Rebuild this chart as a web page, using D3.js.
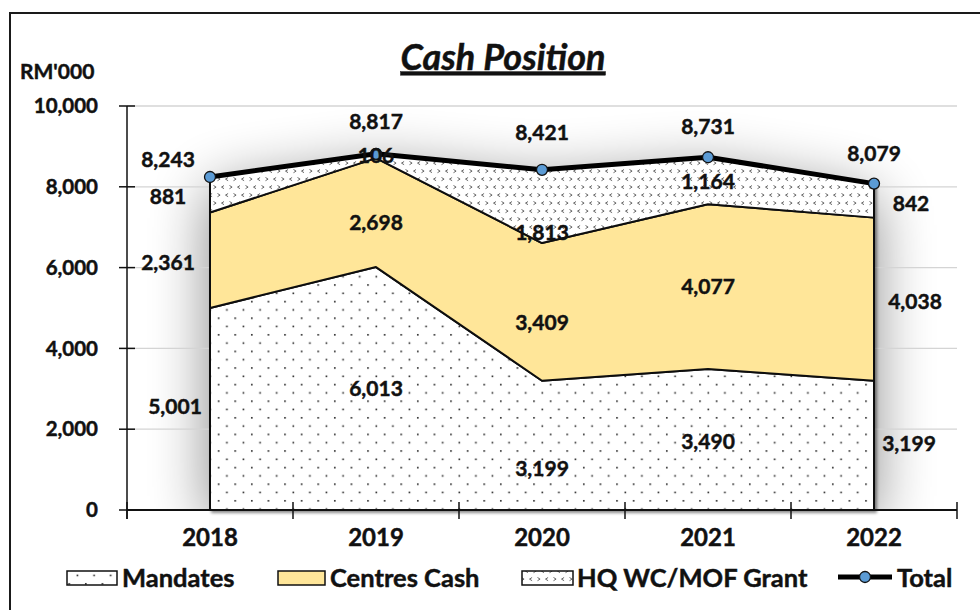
<!DOCTYPE html>
<html><head><meta charset="utf-8">
<script src="https://cdn.jsdelivr.net/npm/d3@7"></script>
<style>body{margin:0;background:#fff}svg text{font-family:Lato,"Open Sans",sans-serif;font-weight:bold;fill:#111;stroke:#111;stroke-width:0.45px;paint-order:stroke}</style>
</head><body><svg id="c" width="980" height="610"></svg>
<script>
const years = ["2018","2019","2020","2021","2022"];
const mandates = [5001, 6013, 3199, 3490, 3199];
const centresCash = [2361, 2698, 3409, 4077, 4038];
const hqGrant = [881, 106, 1813, 1164, 842];
const total = [8243, 8817, 8421, 8731, 8079];
const yTicks = [0, 2000, 4000, 6000, 8000, 10000];
const seriesNames = ["Mandates", "Centres Cash", "HQ WC/MOF Grant", "Total"];

// label offsets (layout only)
const offMand = [[-35,-2],[0,0],[0,23],[0,2],[35,-2]];
const offCent = [[-42,2],[0,10],[0,11],[0,0],[41,2]];
const offHq   = [[-42,2],[0,0],[0,26],[0,1],[37,3]];
const offTot  = [[-42,-17],[0,-32],[0,-37],[0,-31],[0,-30]];

const svg = d3.select("#c");
const L=127,R=957,T=106,B=510;
const x = d3.scalePoint().domain(years).range([L,R]).padding(0.5);
const y = d3.scaleLinear().domain([0,10000]).range([B,T]);

const defs = svg.append("defs");
const pd = defs.append("pattern").attr("id","dots").attr("patternUnits","userSpaceOnUse").attr("width",16.6).attr("height",16.6);
pd.append("rect").attr("width",16.6).attr("height",16.6).attr("fill","#fff");
pd.append("rect").attr("x",2).attr("y",2).attr("width",1.6).attr("height",1.6).attr("fill","#222");
pd.append("rect").attr("x",10.3).attr("y",10.3).attr("width",1.6).attr("height",1.6).attr("fill","#222");
const pv = defs.append("pattern").attr("id","divot").attr("patternUnits","userSpaceOnUse").attr("width",16).attr("height",16);
pv.append("rect").attr("width",16).attr("height",16).attr("fill","#fff");
const gl = (x0,y0,dir)=>dir>0?`M${x0},${y0} L${x0+2.6},${y0+1.6} L${x0},${y0+3.2}`:`M${x0+2.6},${y0} L${x0},${y0+1.6} L${x0+2.6},${y0+3.2}`;
pv.append("path").attr("d",gl(1.5,1.5,-1)+" "+gl(9.5,1.5,1)+" "+gl(5.5,9.5,1)+" "+gl(13.5,9.5,-1)).attr("fill","none").attr("stroke","#666").attr("stroke-width",1);
const f = defs.append("filter").attr("id","soft").attr("x","-50%").attr("y","-50%").attr("width","200%").attr("height","200%");
f.append("feGaussianBlur").attr("stdDeviation",30);
const f2 = defs.append("filter").attr("id","edge").attr("x","-10%").attr("y","-10%").attr("width","120%").attr("height","120%");
f2.append("feDropShadow").attr("dx",2).attr("dy",2).attr("stdDeviation",1.5).attr("flood-color","#000").attr("flood-opacity",0.45);
defs.append("clipPath").attr("id","plotclip").append("rect").attr("x",L).attr("y",T-2).attr("width",R-L).attr("height",B-T+2);

svg.append("rect").attr("x",10).attr("y",13).attr("width",990).attr("height",620).attr("fill","#fff").attr("stroke","#1a1a1a").attr("stroke-width",2);

const rows = years.map((yr,i)=>({year:yr, m:mandates[i], c:centresCash[i], h:hqGrant[i], t:total[i]}));
const stack = d3.stack().keys(["m","c","h"])(rows);

const plot = svg.append("g").attr("clip-path","url(#plotclip)");
const totArea = d3.area().x(d=>x(d.year)).y0(B).y1(d=>y(d.m+d.c+d.h));
plot.append("path").datum(rows).attr("d",totArea).attr("fill","#000").attr("opacity",0.48).attr("filter","url(#soft)").attr("transform","translate(0,14)");

svg.append("g").selectAll("line").data(yTicks.filter(v=>v>0)).join("line")
  .attr("x1",L).attr("x2",R).attr("y1",d=>y(d)).attr("y2",d=>y(d)).attr("stroke","#d4d4d4").attr("stroke-width",1.3);

const area = d3.area().x(d=>x(d.data.year)).y0(d=>y(d[0])).y1(d=>y(d[1]));
const fills = ["url(#dots)","#FFE699","url(#divot)"];
const ag = svg.append("g").attr("filter","url(#edge)");
stack.forEach((s,i)=>{
  ag.append("path").datum(s).attr("d",area).attr("fill",fills[i]).attr("stroke","#111").attr("stroke-width",2).attr("stroke-linejoin","round");
});

const yAxis = svg.append("g").attr("transform",`translate(${L},0)`);
yAxis.append("line").attr("x1",0).attr("x2",0).attr("y1",T).attr("y2",B+9).attr("stroke","#111").attr("stroke-width",1.5);
yAxis.selectAll("line.t").data(yTicks).join("line").attr("class","t").attr("x1",-8).attr("x2",8).attr("y1",d=>y(d)).attr("y2",d=>y(d)).attr("stroke","#111").attr("stroke-width",1.5);
yAxis.selectAll("text").data(yTicks).join("text").attr("x",-29).attr("y",d=>y(d)).attr("dy","0.35em").attr("text-anchor","end").attr("font-size",20.5).text(d3.format(","));

const xAxis = svg.append("g");
xAxis.append("line").attr("x1",L).attr("x2",R).attr("y1",B).attr("y2",B).attr("stroke","#111").attr("stroke-width",2);
const bounds = years.map(yr=>x(yr)-x.step()/2).concat([x(years[years.length-1])+x.step()/2]);
xAxis.selectAll("line.t").data(bounds).join("line").attr("class","t").attr("x1",d=>d).attr("x2",d=>d).attr("y1",B-8).attr("y2",B+9).attr("stroke","#111").attr("stroke-width",1.5);
xAxis.selectAll("text").data(years).join("text").attr("x",d=>x(d)).attr("y",538).attr("dy","0.35em").attr("text-anchor","middle").attr("font-size",24).text(d=>d);

const line = d3.line().x((d,i)=>x(years[i])).y(d=>y(d));
svg.append("path").datum(total).attr("d",line).attr("fill","none").attr("stroke","#000").attr("stroke-width",5).attr("stroke-linejoin","round");
svg.selectAll("circle.m").data(total).join("circle").attr("class","m").attr("cx",(d,i)=>x(years[i])).attr("cy",d=>y(d)).attr("r",5.5).attr("fill","#5B9BD5").attr("stroke","#111").attr("stroke-width",1.3);

const fmt = d3.format(",");
function labels(vals, base, offs){
  svg.append("g").selectAll("text").data(vals).join("text")
    .attr("x",(d,i)=>x(years[i])+offs[i][0])
    .attr("y",(d,i)=>y(base[i]+d/2)+offs[i][1])
    .attr("dy","0.35em").attr("text-anchor","middle").attr("font-size",21).text(fmt);
}
labels(mandates, mandates.map(()=>0), offMand);
labels(centresCash, mandates, offCent);
labels(hqGrant, mandates.map((m,i)=>m+centresCash[i]), offHq);
svg.append("g").selectAll("text").data(total).join("text")
  .attr("x",(d,i)=>x(years[i])+offTot[i][0]).attr("y",(d,i)=>y(d)+offTot[i][1])
  .attr("dy","0.35em").attr("text-anchor","middle").attr("font-size",21).text(fmt);

svg.append("text").attr("x",503).attr("y",57).attr("dy","0.35em").attr("text-anchor","middle").attr("font-size",36).attr("font-style","italic").attr("text-decoration","underline").text("Cash Position");
svg.append("text").attr("x",20).attr("y",72).attr("dy","0.35em").attr("font-size",21).text("RM'000");

const lg = svg.append("g");
const legItems = [
  {x:67,w:50,tx:122,fill:"url(#dots)"},
  {x:278,w:47,tx:330,fill:"#FFE699"},
  {x:522,w:51,tx:577,fill:"url(#divot)"}
];
legItems.forEach((it,i)=>{
  lg.append("rect").attr("x",it.x).attr("y",571).attr("width",it.w).attr("height",14).attr("fill",it.fill).attr("stroke","#111").attr("stroke-width",1.5);
  lg.append("text").attr("x",it.tx).attr("y",578).attr("dy","0.35em").attr("font-size",25.5).text(seriesNames[i]);
});
lg.append("line").attr("x1",838).attr("x2",892).attr("y1",577).attr("y2",577).attr("stroke","#000").attr("stroke-width",5);
lg.append("circle").attr("cx",865).attr("cy",577).attr("r",5.5).attr("fill","#5B9BD5").attr("stroke","#111").attr("stroke-width",1.3);
lg.append("text").attr("x",897).attr("y",578).attr("dy","0.35em").attr("font-size",25.5).text(seriesNames[3]);
</script></body></html>
